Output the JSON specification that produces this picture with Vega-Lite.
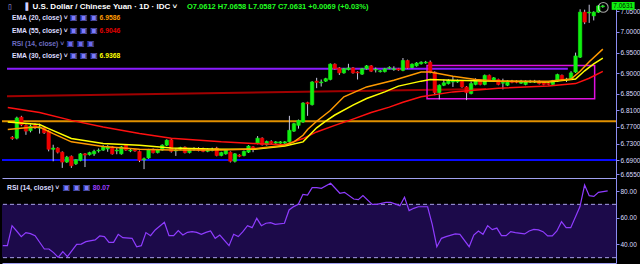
{
"$schema": "https://vega.github.io/schema/vega-lite/v6.json",
"background": "#000000",
"padding": 0,
"spacing": 0,
"config": {"font": "Liberation Sans", "view": {"stroke": null},
 "axis": {"grid": false, "title": null, "domainColor": "#8c8cf0", "tickColor": "#8c8cf0", "labelColor": "#dcdcff", "labelFontSize": 6.5, "labelPadding": 1, "tickSize": 3, "labelOverlap": false}},
"datasets": {
"candles": [
{"i":0,"o":6.745,"h":6.748,"l":6.739,"c":6.742},{"i":1,"o":6.743,"h":6.795,"l":6.740,"c":6.792},{"i":2,"o":6.794,"h":6.797,"l":6.772,"c":6.775},{"i":3,"o":6.774,"h":6.776,"l":6.751,"c":6.760},{"i":4,"o":6.761,"h":6.776,"l":6.757,"c":6.772},{"i":5,"o":6.775,"h":6.779,"l":6.765,"c":6.768},{"i":6,"o":6.767,"h":6.778,"l":6.754,"c":6.770},{"i":7,"o":6.768,"h":6.771,"l":6.753,"c":6.756},{"i":8,"o":6.760,"h":6.762,"l":6.711,"c":6.716},{"i":9,"o":6.716,"h":6.727,"l":6.687,"c":6.719},
{"i":10,"o":6.719,"h":6.721,"l":6.706,"c":6.709},{"i":11,"o":6.709,"h":6.711,"l":6.671,"c":6.685},{"i":12,"o":6.685,"h":6.700,"l":6.683,"c":6.697},{"i":13,"o":6.699,"h":6.701,"l":6.671,"c":6.676},{"i":14,"o":6.681,"h":6.692,"l":6.678,"c":6.691},{"i":15,"o":6.689,"h":6.707,"l":6.687,"c":6.705},{"i":16,"o":6.705,"h":6.707,"l":6.673,"c":6.702},{"i":17,"o":6.703,"h":6.710,"l":6.701,"c":6.708},{"i":18,"o":6.705,"h":6.715,"l":6.700,"c":6.711},{"i":19,"o":6.712,"h":6.718,"l":6.708,"c":6.714},
{"i":20,"o":6.714,"h":6.726,"l":6.712,"c":6.722},{"i":21,"o":6.717,"h":6.726,"l":6.710,"c":6.722},{"i":22,"o":6.722,"h":6.724,"l":6.703,"c":6.705},{"i":23,"o":6.712,"h":6.720,"l":6.704,"c":6.714},{"i":24,"o":6.705,"h":6.724,"l":6.703,"c":6.722},{"i":25,"o":6.726,"h":6.728,"l":6.712,"c":6.714},{"i":26,"o":6.712,"h":6.717,"l":6.709,"c":6.714},{"i":27,"o":6.715,"h":6.717,"l":6.710,"c":6.712},{"i":28,"o":6.711,"h":6.713,"l":6.685,"c":6.689},{"i":29,"o":6.690,"h":6.696,"l":6.668,"c":6.693},
{"i":30,"o":6.695,"h":6.717,"l":6.693,"c":6.715},{"i":31,"o":6.716,"h":6.718,"l":6.706,"c":6.708},{"i":32,"o":6.708,"h":6.717,"l":6.706,"c":6.715},{"i":33,"o":6.714,"h":6.728,"l":6.712,"c":6.726},{"i":34,"o":6.726,"h":6.740,"l":6.724,"c":6.738},{"i":35,"o":6.739,"h":6.741,"l":6.708,"c":6.711},{"i":36,"o":6.712,"h":6.718,"l":6.700,"c":6.714},{"i":37,"o":6.716,"h":6.722,"l":6.714,"c":6.720},{"i":38,"o":6.721,"h":6.723,"l":6.706,"c":6.708},{"i":39,"o":6.708,"h":6.718,"l":6.706,"c":6.716},
{"i":40,"o":6.716,"h":6.721,"l":6.713,"c":6.718},{"i":41,"o":6.716,"h":6.721,"l":6.711,"c":6.713},{"i":42,"o":6.718,"h":6.720,"l":6.709,"c":6.711},{"i":43,"o":6.711,"h":6.719,"l":6.709,"c":6.716},{"i":44,"o":6.713,"h":6.720,"l":6.711,"c":6.716},{"i":45,"o":6.719,"h":6.722,"l":6.699,"c":6.701},{"i":46,"o":6.701,"h":6.710,"l":6.699,"c":6.708},{"i":47,"o":6.705,"h":6.716,"l":6.703,"c":6.714},{"i":48,"o":6.709,"h":6.711,"l":6.684,"c":6.687},{"i":49,"o":6.687,"h":6.707,"l":6.684,"c":6.705},
{"i":50,"o":6.702,"h":6.704,"l":6.697,"c":6.699},{"i":51,"o":6.701,"h":6.713,"l":6.699,"c":6.711},{"i":52,"o":6.709,"h":6.726,"l":6.707,"c":6.724},{"i":53,"o":6.722,"h":6.724,"l":6.709,"c":6.716},{"i":54,"o":6.730,"h":6.748,"l":6.728,"c":6.743},{"i":55,"o":6.743,"h":6.745,"l":6.725,"c":6.727},{"i":56,"o":6.727,"h":6.737,"l":6.725,"c":6.735},{"i":57,"o":6.735,"h":6.738,"l":6.729,"c":6.731},{"i":58,"o":6.731,"h":6.736,"l":6.729,"c":6.734},{"i":59,"o":6.731,"h":6.736,"l":6.729,"c":6.734},
{"i":60,"o":6.731,"h":6.736,"l":6.729,"c":6.734},{"i":61,"o":6.734,"h":6.797,"l":6.732,"c":6.762},{"i":62,"o":6.760,"h":6.780,"l":6.758,"c":6.778},{"i":63,"o":6.774,"h":6.788,"l":6.766,"c":6.786},{"i":64,"o":6.782,"h":6.830,"l":6.780,"c":6.828},{"i":65,"o":6.829,"h":6.831,"l":6.797,"c":6.826},{"i":66,"o":6.824,"h":6.881,"l":6.822,"c":6.879},{"i":67,"o":6.881,"h":6.889,"l":6.864,"c":6.878},{"i":68,"o":6.877,"h":6.885,"l":6.868,"c":6.879},{"i":69,"o":6.881,"h":6.889,"l":6.879,"c":6.887},
{"i":70,"o":6.885,"h":6.924,"l":6.883,"c":6.922},{"i":71,"o":6.922,"h":6.924,"l":6.909,"c":6.911},{"i":72,"o":6.913,"h":6.915,"l":6.896,"c":6.901},{"i":73,"o":6.901,"h":6.913,"l":6.899,"c":6.911},{"i":74,"o":6.909,"h":6.923,"l":6.907,"c":6.913},{"i":75,"o":6.913,"h":6.915,"l":6.899,"c":6.901},{"i":76,"o":6.903,"h":6.905,"l":6.885,"c":6.901},{"i":77,"o":6.898,"h":6.913,"l":6.896,"c":6.911},{"i":78,"o":6.911,"h":6.920,"l":6.909,"c":6.918},{"i":79,"o":6.918,"h":6.920,"l":6.903,"c":6.905},
{"i":80,"o":6.908,"h":6.914,"l":6.902,"c":6.910},{"i":81,"o":6.904,"h":6.908,"l":6.902,"c":6.906},{"i":82,"o":6.904,"h":6.913,"l":6.902,"c":6.911},{"i":83,"o":6.912,"h":6.917,"l":6.910,"c":6.914},{"i":84,"o":6.909,"h":6.917,"l":6.906,"c":6.911},{"i":85,"o":6.911,"h":6.913,"l":6.906,"c":6.908},{"i":86,"o":6.907,"h":6.937,"l":6.905,"c":6.931},{"i":87,"o":6.931,"h":6.933,"l":6.911,"c":6.913},{"i":88,"o":6.914,"h":6.924,"l":6.912,"c":6.922},{"i":89,"o":6.918,"h":6.927,"l":6.916,"c":6.925},
{"i":90,"o":6.923,"h":6.929,"l":6.921,"c":6.927},{"i":91,"o":6.925,"h":6.930,"l":6.923,"c":6.927},{"i":92,"o":6.927,"h":6.931,"l":6.900,"c":6.903},{"i":93,"o":6.903,"h":6.905,"l":6.847,"c":6.853},{"i":94,"o":6.853,"h":6.873,"l":6.837,"c":6.871},{"i":95,"o":6.871,"h":6.885,"l":6.869,"c":6.877},{"i":96,"o":6.875,"h":6.886,"l":6.873,"c":6.883},{"i":97,"o":6.879,"h":6.893,"l":6.867,"c":6.881},{"i":98,"o":6.879,"h":6.885,"l":6.877,"c":6.881},{"i":99,"o":6.881,"h":6.883,"l":6.865,"c":6.867},
{"i":100,"o":6.867,"h":6.869,"l":6.835,"c":6.853},{"i":101,"o":6.851,"h":6.880,"l":6.849,"c":6.875},{"i":102,"o":6.873,"h":6.888,"l":6.871,"c":6.883},{"i":103,"o":6.882,"h":6.884,"l":6.871,"c":6.873},{"i":104,"o":6.873,"h":6.897,"l":6.871,"c":6.895},{"i":105,"o":6.895,"h":6.897,"l":6.881,"c":6.883},{"i":106,"o":6.882,"h":6.891,"l":6.880,"c":6.889},{"i":107,"o":6.885,"h":6.887,"l":6.871,"c":6.873},{"i":108,"o":6.876,"h":6.887,"l":6.861,"c":6.878},{"i":109,"o":6.871,"h":6.883,"l":6.869,"c":6.881},
{"i":110,"o":6.881,"h":6.884,"l":6.876,"c":6.878},{"i":111,"o":6.881,"h":6.883,"l":6.876,"c":6.878},{"i":112,"o":6.876,"h":6.884,"l":6.874,"c":6.881},{"i":113,"o":6.873,"h":6.883,"l":6.871,"c":6.881},{"i":114,"o":6.879,"h":6.884,"l":6.877,"c":6.881},{"i":115,"o":6.879,"h":6.884,"l":6.877,"c":6.881},{"i":116,"o":6.881,"h":6.883,"l":6.873,"c":6.875},{"i":117,"o":6.879,"h":6.881,"l":6.871,"c":6.873},{"i":118,"o":6.876,"h":6.878,"l":6.871,"c":6.873},{"i":119,"o":6.873,"h":6.884,"l":6.871,"c":6.882},
{"i":120,"o":6.881,"h":6.899,"l":6.879,"c":6.897},{"i":121,"o":6.895,"h":6.897,"l":6.883,"c":6.885},{"i":122,"o":6.884,"h":6.889,"l":6.879,"c":6.886},{"i":123,"o":6.887,"h":6.905,"l":6.885,"c":6.901},{"i":124,"o":6.903,"h":6.950,"l":6.901,"c":6.942},{"i":125,"o":6.939,"h":7.055,"l":6.937,"c":7.048},{"i":126,"o":7.048,"h":7.054,"l":7.019,"c":7.024},{"i":127,"o":7.046,"h":7.066,"l":7.022,"c":7.048},{"i":128,"o":7.039,"h":7.050,"l":7.028,"c":7.048},{"i":129,"o":7.048,"h":7.065,"l":7.046,"c":7.063},
{"i":130,"o":7.0612,"h":7.0658,"l":7.0587,"c":7.0631}
],
"ema": [
{"s":"EMA55","i":-1,"v":6.817},{"s":"EMA55","i":6,"v":6.805},{"s":"EMA55","i":13,"v":6.786},{"s":"EMA55","i":20,"v":6.770},{"s":"EMA55","i":28,"v":6.754},{"s":"EMA55","i":35,"v":6.743},{"s":"EMA55","i":46,"v":6.734},{"s":"EMA55","i":53,"v":6.730},{"s":"EMA55","i":60,"v":6.727},{"s":"EMA55","i":64,"v":6.742},{"s":"EMA55","i":67,"v":6.758},{"s":"EMA55","i":71,"v":6.774},{"s":"EMA55","i":75,"v":6.789},{"s":"EMA55","i":79,"v":6.805},{"s":"EMA55","i":83,"v":6.818},{"s":"EMA55","i":86,"v":6.830},{"s":"EMA55","i":90,"v":6.843},{"s":"EMA55","i":97,"v":6.855},{"s":"EMA55","i":107,"v":6.864},{"s":"EMA55","i":118,"v":6.869},{"s":"EMA55","i":124,"v":6.875},{"s":"EMA55","i":127,"v":6.888},{"s":"EMA55","i":130,"v":6.9046},
{"s":"EMA30","i":-1,"v":6.782},{"s":"EMA30","i":6,"v":6.776},{"s":"EMA30","i":8,"v":6.766},{"s":"EMA30","i":13,"v":6.742},{"s":"EMA30","i":20,"v":6.730},{"s":"EMA30","i":28,"v":6.726},{"s":"EMA30","i":35,"v":6.719},{"s":"EMA30","i":46,"v":6.716},{"s":"EMA30","i":53,"v":6.716},{"s":"EMA30","i":60,"v":6.724},{"s":"EMA30","i":64,"v":6.734},{"s":"EMA30","i":67,"v":6.768},{"s":"EMA30","i":69,"v":6.784},{"s":"EMA30","i":71,"v":6.799},{"s":"EMA30","i":75,"v":6.823},{"s":"EMA30","i":78,"v":6.839},{"s":"EMA30","i":82,"v":6.855},{"s":"EMA30","i":85,"v":6.869},{"s":"EMA30","i":90,"v":6.881},{"s":"EMA30","i":92,"v":6.885},{"s":"EMA30","i":97,"v":6.883},{"s":"EMA30","i":107,"v":6.881},{"s":"EMA30","i":118,"v":6.879},{"s":"EMA30","i":124,"v":6.886},{"s":"EMA30","i":126,"v":6.906},{"s":"EMA30","i":128,"v":6.923},{"s":"EMA30","i":130,"v":6.9368},
{"s":"EMA20","i":-1,"v":6.764},{"s":"EMA20","i":3,"v":6.768},{"s":"EMA20","i":6,"v":6.770},{"s":"EMA20","i":9,"v":6.754},{"s":"EMA20","i":13,"v":6.734},{"s":"EMA20","i":20,"v":6.723},{"s":"EMA20","i":28,"v":6.716},{"s":"EMA20","i":35,"v":6.714},{"s":"EMA20","i":46,"v":6.714},{"s":"EMA20","i":53,"v":6.717},{"s":"EMA20","i":60,"v":6.726},{"s":"EMA20","i":62,"v":6.734},{"s":"EMA20","i":64,"v":6.750},{"s":"EMA20","i":65,"v":6.764},{"s":"EMA20","i":67,"v":6.784},{"s":"EMA20","i":70,"v":6.810},{"s":"EMA20","i":73,"v":6.843},{"s":"EMA20","i":78,"v":6.867},{"s":"EMA20","i":84,"v":6.883},{"s":"EMA20","i":90,"v":6.903},{"s":"EMA20","i":92,"v":6.903},{"s":"EMA20","i":97,"v":6.893},{"s":"EMA20","i":102,"v":6.885},{"s":"EMA20","i":107,"v":6.881},{"s":"EMA20","i":118,"v":6.881},{"s":"EMA20","i":123,"v":6.886},{"s":"EMA20","i":125,"v":6.905},{"s":"EMA20","i":127,"v":6.928},{"s":"EMA20","i":130,"v":6.9586}
],
"trend": [{"i":-1.17,"v":6.8443},{"i":104.3,"v":6.862}],
"rsi": [
{"i":-1,"r":39.0},{"i":0,"r":39.0},{"i":1,"r":54.0},{"i":2,"r":50.0},{"i":3,"r":45.7},{"i":4,"r":48.8},{"i":5,"r":48.0},{"i":6,"r":46.5},{"i":8,"r":36.5},{"i":9,"r":36.5},{"i":10,"r":33.8},{"i":11,"r":30.2},{"i":12,"r":34.5},{"i":13,"r":30.8},{"i":15,"r":40.0},{"i":16,"r":40.2},{"i":17,"r":42.0},{"i":19,"r":43.3},{"i":20,"r":46.3},{"i":21,"r":45.8},{"i":22,"r":41.5},{"i":23,"r":41.5},{"i":24,"r":47.5},{"i":25,"r":45.0},{"i":27,"r":44.5},{"i":28,"r":38.2},{"i":29,"r":39.0},{"i":30,"r":48.8},{"i":31,"r":46.5},{"i":32,"r":50.8},{"i":34,"r":56.5},{"i":35,"r":46.5},{"i":36,"r":46.5},{"i":37,"r":50.3},{"i":38,"r":47.0},{"i":39,"r":49.0},{"i":40,"r":49.5},{"i":41,"r":49.0},{"i":42,"r":47.5},{"i":43,"r":49.0},{"i":44,"r":50.0},{"i":45,"r":44.5},{"i":46,"r":47.0},{"i":48,"r":39.0},{"i":49,"r":47.5},{"i":50,"r":45.8},{"i":51,"r":49.5},{"i":52,"r":54.0},{"i":53,"r":52.5},{"i":54,"r":59.5},{"i":55,"r":54.0},{"i":56,"r":55.8},{"i":57,"r":56.3},{"i":58,"r":55.0},{"i":60,"r":55.8},{"i":61,"r":65.8},{"i":62,"r":68.3},{"i":63,"r":70.0},{"i":64,"r":77.5},{"i":65,"r":77.0},{"i":66,"r":82.5},{"i":67,"r":82.5},{"i":68,"r":82.0},{"i":70,"r":85.8},{"i":72,"r":78.3},{"i":73,"r":79.0},{"i":75,"r":74.0},{"i":76,"r":73.5},{"i":77,"r":76.5},{"i":79,"r":70.0},{"i":80,"r":70.0},{"i":82,"r":71.5},{"i":83,"r":71.5},{"i":85,"r":69.0},{"i":86,"r":75.3},{"i":87,"r":65.3},{"i":88,"r":67.0},{"i":89,"r":68.2},{"i":91,"r":68.2},{"i":92,"r":55.0},{"i":93,"r":38.2},{"i":94,"r":44.5},{"i":95,"r":45.8},{"i":97,"r":47.8},{"i":98,"r":47.5},{"i":100,"r":38.2},{"i":101,"r":47.0},{"i":102,"r":50.0},{"i":103,"r":47.5},{"i":104,"r":54.0},{"i":105,"r":51.0},{"i":106,"r":52.2},{"i":107,"r":46.5},{"i":108,"r":46.5},{"i":109,"r":49.5},{"i":110,"r":48.8},{"i":112,"r":47.8},{"i":113,"r":50.0},{"i":114,"r":51.2},{"i":115,"r":50.8},{"i":116,"r":49.5},{"i":117,"r":46.3},{"i":118,"r":46.3},{"i":119,"r":50.0},{"i":120,"r":57.0},{"i":121,"r":52.5},{"i":122,"r":52.5},{"i":124,"r":68.3},{"i":125,"r":84.5},{"i":126,"r":76.5},{"i":127,"r":76.0},{"i":128,"r":79.0},{"i":130,"r":80.07}
]
},
"vconcat": [
{
"width": 614, "height": 176,
"layer": [
{"data": {"name": "candles"}, "mark": {"type": "rule", "color": "#c4c4dc", "strokeWidth": 1, "opacity": 0},
 "encoding": {"x": {"field": "i", "type": "quantitative", "scale": {"domain": [-1.17, 131.8], "nice": false, "zero": false},
   "axis": {"orient": "bottom", "labels": false, "ticks": false, "domainColor": "#a0a0f0"}},
  "y": {"field": "l", "type": "quantitative", "scale": {"domain": [6.6465, 7.0726], "nice": false, "zero": false},
   "axis": {"orient": "right", "values": [7.05, 7.0, 6.95, 6.9, 6.85, 6.81, 6.77, 6.73, 6.69, 6.655], "tickCount": 20, "format": ".4f", "labelOverlap": false, "labelBound": false, "labelFlush": false}}, "y2": {"field": "h"}}},
{"data": {"values": [{}]}, "mark": {"type": "rule", "color": "#e09000", "strokeWidth": 2},
 "encoding": {"y": {"datum": 6.784, "type": "quantitative", "scale": {"domain": [6.6465, 7.0726], "nice": false, "zero": false}}}},
{"data": {"values": [{}]}, "mark": {"type": "rule", "color": "#0a0aff", "strokeWidth": 2},
 "encoding": {"y": {"datum": 6.690, "type": "quantitative", "scale": {"domain": [6.6465, 7.0726], "nice": false, "zero": false}}}},
{"data": {"name": "trend"}, "mark": {"type": "line", "color": "#a00000", "strokeWidth": 2},
 "encoding": {"x": {"field": "i", "type": "quantitative", "scale": {"domain": [-1.17, 131.8], "nice": false, "zero": false}},
  "y": {"field": "v", "type": "quantitative", "scale": {"domain": [6.6465, 7.0726], "nice": false, "zero": false}}}},
{"data": {"values": [{}]}, "mark": {"type": "rule", "color": "#8a1cff", "strokeWidth": 2},
 "encoding": {"x": {"datum": -1.17, "type": "quantitative", "scale": {"domain": [-1.17, 131.8], "nice": false, "zero": false}},
  "x2": {"datum": 122.3}, "y": {"datum": 6.911, "type": "quantitative", "scale": {"domain": [6.6465, 7.0726], "nice": false, "zero": false}}}},
{"data": {"values": [{}]}, "mark": {"type": "rect", "fillOpacity": 0, "stroke": "#e010e0", "strokeWidth": 1.5},
 "encoding": {"x": {"datum": 91.3, "type": "quantitative", "scale": {"domain": [-1.17, 131.8], "nice": false, "zero": false}},
  "x2": {"datum": 128.2}, "y": {"datum": 6.919, "type": "quantitative", "scale": {"domain": [6.6465, 7.0726], "nice": false, "zero": false}}, "y2": {"datum": 6.8385}}},
{"data": {"name": "candles"}, "mark": {"type": "rule", "color": "#c4c4dc", "strokeWidth": 1},
 "encoding": {"x": {"field": "i", "type": "quantitative", "scale": {"domain": [-1.17, 131.8], "nice": false, "zero": false}},
  "y": {"field": "l", "type": "quantitative", "scale": {"domain": [6.6465, 7.0726], "nice": false, "zero": false}}, "y2": {"field": "h"}}},
{"data": {"name": "candles"}, "mark": {"type": "bar", "width": 3.4, "strokeWidth": 0.6},
 "encoding": {"x": {"field": "i", "type": "quantitative", "scale": {"domain": [-1.17, 131.8], "nice": false, "zero": false}},
  "y": {"field": "o", "type": "quantitative", "scale": {"domain": [6.6465, 7.0726], "nice": false, "zero": false}}, "y2": {"field": "c"},
  "color": {"condition": {"test": "datum.c >= datum.o", "value": "#10f010"}, "value": "#ee0000"},
  "stroke": {"condition": {"test": "datum.c >= datum.o", "value": "#10f010"}, "value": "#ee0000"}}},
{"data": {"name": "ema"}, "mark": {"type": "line", "strokeWidth": 1.5},
 "encoding": {"x": {"field": "i", "type": "quantitative", "scale": {"domain": [-1.17, 131.8], "nice": false, "zero": false}},
  "y": {"field": "v", "type": "quantitative", "scale": {"domain": [6.6465, 7.0726], "nice": false, "zero": false}},
  "color": {"field": "s", "type": "nominal", "scale": {"domain": ["EMA20", "EMA30", "EMA55"], "range": ["#ff9a00", "#ffff00", "#ff1010"]}, "legend": null},
  "order": {"field": "i", "type": "quantitative"}}},
{"data": {"values": [{}]}, "mark": {"type": "point", "filled": false, "stroke": "#e8e8e8", "strokeWidth": 1.1, "size": 95},
 "encoding": {"x": {"datum": 130.1, "type": "quantitative", "scale": {"domain": [-1.17, 131.8], "nice": false, "zero": false}},
  "y": {"datum": 7.0595, "type": "quantitative", "scale": {"domain": [6.6465, 7.0726], "nice": false, "zero": false}}}},
{"data": {"values": [{}]}, "mark": {"type": "rect", "color": "#10f010"},
 "encoding": {"x": {"datum": 131.95, "type": "quantitative", "scale": {"domain": [-1.17, 131.8], "nice": false, "zero": false}},
  "x2": {"datum": 137.0}, "y": {"datum": 7.0726, "type": "quantitative", "scale": {"domain": [6.6465, 7.0726], "nice": false, "zero": false}}, "y2": {"datum": 7.0536}}},
{"data": {"values": [{}]}, "mark": {"type": "text", "text": "7.0631", "align": "center", "baseline": "middle", "fontSize": 6.5, "color": "#002000"},
 "encoding": {"x": {"datum": 134.5, "type": "quantitative", "scale": {"domain": [-1.17, 131.8], "nice": false, "zero": false}},
  "y": {"datum": 7.0631, "type": "quantitative", "scale": {"domain": [6.6465, 7.0726], "nice": false, "zero": false}}}},
{"data": {"values": [{}]}, "mark": {"type": "text", "text": "▯", "font": "DejaVu Sans", "align": "left", "baseline": "middle", "fontSize": 7, "color": "#b0b0ff"},
 "encoding": {"x": {"datum": -0.95, "type": "quantitative", "scale": {"domain": [-1.17, 131.8], "nice": false, "zero": false}},
  "y": {"datum": 7.0607, "type": "quantitative", "scale": {"domain": [6.6465, 7.0726], "nice": false, "zero": false}}}},
{"data": {"values": [{}]}, "mark": {"type": "text", "text": "▐", "font": "DejaVu Sans", "align": "left", "baseline": "middle", "fontSize": 7, "color": "#d0d0ff"},
 "encoding": {"x": {"datum": 2.3, "type": "quantitative", "scale": {"domain": [-1.17, 131.8], "nice": false, "zero": false}},
  "y": {"datum": 7.0607, "type": "quantitative", "scale": {"domain": [6.6465, 7.0726], "nice": false, "zero": false}}}},
{"data": {"values": [{}]}, "mark": {"type": "text", "text": "U.S. Dollar / Chinese Yuan · 1D · IDC ˅", "align": "left", "baseline": "middle", "fontSize": 8, "fontWeight": "bold", "color": "#ffffff"},
 "encoding": {"x": {"datum": 4.46, "type": "quantitative", "scale": {"domain": [-1.17, 131.8], "nice": false, "zero": false}},
  "y": {"datum": 7.0607, "type": "quantitative", "scale": {"domain": [6.6465, 7.0726], "nice": false, "zero": false}}}},
{"data": {"values": [{}]}, "mark": {"type": "text", "text": "O7.0612 H7.0658 L7.0587 C7.0631 +0.0069 (+0.03%)", "align": "left", "baseline": "middle", "fontSize": 7.5, "fontWeight": "bold", "color": "#22ff22"},
 "encoding": {"x": {"datum": 38.46, "type": "quantitative", "scale": {"domain": [-1.17, 131.8], "nice": false, "zero": false}},
  "y": {"datum": 7.0607, "type": "quantitative", "scale": {"domain": [6.6465, 7.0726], "nice": false, "zero": false}}}},
{"data": {"values": [{}]}, "mark": {"type": "text", "text": "EMA (20, close) ˅", "align": "left", "baseline": "middle", "fontSize": 6.8, "fontWeight": "bold", "color": "#dcdcff"},
 "encoding": {"x": {"datum": -0.09, "type": "quantitative", "scale": {"domain": [-1.17, 131.8], "nice": false, "zero": false}},
  "y": {"datum": 7.0339, "type": "quantitative", "scale": {"domain": [6.6465, 7.0726], "nice": false, "zero": false}}}},
{"data": {"values": [{}]}, "mark": {"type": "text", "text": "EMA (55, close) ˅", "align": "left", "baseline": "middle", "fontSize": 6.8, "fontWeight": "bold", "color": "#dcdcff"},
 "encoding": {"x": {"datum": -0.09, "type": "quantitative", "scale": {"domain": [-1.17, 131.8], "nice": false, "zero": false}},
  "y": {"datum": 7.0024, "type": "quantitative", "scale": {"domain": [6.6465, 7.0726], "nice": false, "zero": false}}}},
{"data": {"values": [{}]}, "mark": {"type": "text", "text": "RSI (14, close) ˅", "align": "left", "baseline": "middle", "fontSize": 6.8, "fontWeight": "bold", "color": "#6c6cc0"},
 "encoding": {"x": {"datum": -0.09, "type": "quantitative", "scale": {"domain": [-1.17, 131.8], "nice": false, "zero": false}},
  "y": {"datum": 6.9717, "type": "quantitative", "scale": {"domain": [6.6465, 7.0726], "nice": false, "zero": false}}}},
{"data": {"values": [{}]}, "mark": {"type": "text", "text": "EMA (30, close) ˅", "align": "left", "baseline": "middle", "fontSize": 6.8, "fontWeight": "bold", "color": "#dcdcff"},
 "encoding": {"x": {"datum": -0.09, "type": "quantitative", "scale": {"domain": [-1.17, 131.8], "nice": false, "zero": false}},
  "y": {"datum": 6.9419, "type": "quantitative", "scale": {"domain": [6.6465, 7.0726], "nice": false, "zero": false}}}},
{"data": {"values": [{}]}, "mark": {"type": "text", "text": "▣ ▣ ▣", "font": "DejaVu Sans", "align": "left", "baseline": "middle", "fontSize": 8, "color": "#7b7bff"},
 "encoding": {"x": {"datum": 12.7, "type": "quantitative", "scale": {"domain": [-1.17, 131.8], "nice": false, "zero": false}},
  "y": {"datum": 7.0339, "type": "quantitative", "scale": {"domain": [6.6465, 7.0726], "nice": false, "zero": false}}}},
{"data": {"values": [{}]}, "mark": {"type": "text", "text": "▣ ▣ ▣", "font": "DejaVu Sans", "align": "left", "baseline": "middle", "fontSize": 8, "color": "#7b7bff"},
 "encoding": {"x": {"datum": 12.7, "type": "quantitative", "scale": {"domain": [-1.17, 131.8], "nice": false, "zero": false}},
  "y": {"datum": 7.0024, "type": "quantitative", "scale": {"domain": [6.6465, 7.0726], "nice": false, "zero": false}}}},
{"data": {"values": [{}]}, "mark": {"type": "text", "text": "▣ ▣ ▣", "font": "DejaVu Sans", "align": "left", "baseline": "middle", "fontSize": 8, "color": "#6a6af0"},
 "encoding": {"x": {"datum": 12.0, "type": "quantitative", "scale": {"domain": [-1.17, 131.8], "nice": false, "zero": false}},
  "y": {"datum": 6.9717, "type": "quantitative", "scale": {"domain": [6.6465, 7.0726], "nice": false, "zero": false}}}},
{"data": {"values": [{}]}, "mark": {"type": "text", "text": "▣ ▣ ▣", "font": "DejaVu Sans", "align": "left", "baseline": "middle", "fontSize": 8, "color": "#7b7bff"},
 "encoding": {"x": {"datum": 12.7, "type": "quantitative", "scale": {"domain": [-1.17, 131.8], "nice": false, "zero": false}},
  "y": {"datum": 6.9419, "type": "quantitative", "scale": {"domain": [6.6465, 7.0726], "nice": false, "zero": false}}}},
{"data": {"values": [{}]}, "mark": {"type": "text", "text": "6.9586", "align": "left", "baseline": "middle", "fontSize": 6.8, "fontWeight": "bold", "color": "#ff9a00"},
 "encoding": {"x": {"datum": 19.2, "type": "quantitative", "scale": {"domain": [-1.17, 131.8], "nice": false, "zero": false}},
  "y": {"datum": 7.0339, "type": "quantitative", "scale": {"domain": [6.6465, 7.0726], "nice": false, "zero": false}}}},
{"data": {"values": [{}]}, "mark": {"type": "text", "text": "6.9046", "align": "left", "baseline": "middle", "fontSize": 6.8, "fontWeight": "bold", "color": "#e00000"},
 "encoding": {"x": {"datum": 19.2, "type": "quantitative", "scale": {"domain": [-1.17, 131.8], "nice": false, "zero": false}},
  "y": {"datum": 7.0024, "type": "quantitative", "scale": {"domain": [6.6465, 7.0726], "nice": false, "zero": false}}}},
{"data": {"values": [{}]}, "mark": {"type": "text", "text": "6.9368", "align": "left", "baseline": "middle", "fontSize": 6.8, "fontWeight": "bold", "color": "#ffff00"},
 "encoding": {"x": {"datum": 19.2, "type": "quantitative", "scale": {"domain": [-1.17, 131.8], "nice": false, "zero": false}},
  "y": {"datum": 6.9419, "type": "quantitative", "scale": {"domain": [6.6465, 7.0726], "nice": false, "zero": false}}}}
]
},
{
"width": 614, "height": 85,
"layer": [
{"data": {"name": "rsi"}, "mark": {"type": "line", "opacity": 0},
 "encoding": {"x": {"field": "i", "type": "quantitative", "scale": {"domain": [-1.17, 131.8], "nice": false, "zero": false},
   "axis": {"orient": "bottom", "labels": false, "tickSize": 2, "tickCount": 30, "values": [6.7, 16, 26.5, 36.6, 46.3, 58.4, 71.1, 80.8, 90.7, 100.6, 110.8, 123.3], "domainColor": "#a0a0f0"}},
  "y": {"field": "r", "type": "quantitative", "scale": {"domain": [26, 89.75], "nice": false, "zero": false},
   "axis": {"orient": "right", "values": [80, 60, 40], "tickCount": 10, "format": ".2f", "labelOverlap": false, "labelBound": false, "labelFlush": false}}}},
{"data": {"values": [{}]}, "mark": {"type": "rect", "color": "#1c0a4a"},
 "encoding": {"x": {"datum": -1.17, "type": "quantitative", "scale": {"domain": [-1.17, 131.8], "nice": false, "zero": false}},
  "x2": {"datum": 131.8},
  "y": {"datum": 70, "type": "quantitative", "scale": {"domain": [26, 89.75], "nice": false, "zero": false}}, "y2": {"datum": 30}}},
{"data": {"values": [{}]}, "mark": {"type": "rule", "color": "#a89fe8", "strokeWidth": 1, "strokeDash": [4, 3]},
 "encoding": {"y": {"datum": 70, "type": "quantitative", "scale": {"domain": [26, 89.75], "nice": false, "zero": false}}}},
{"data": {"values": [{}]}, "mark": {"type": "rule", "color": "#a89fe8", "strokeWidth": 1, "strokeDash": [4, 3]},
 "encoding": {"y": {"datum": 30, "type": "quantitative", "scale": {"domain": [26, 89.75], "nice": false, "zero": false}}}},
{"data": {"name": "rsi"}, "mark": {"type": "line", "color": "#8f3cff", "strokeWidth": 1.2},
 "encoding": {"x": {"field": "i", "type": "quantitative", "scale": {"domain": [-1.17, 131.8], "nice": false, "zero": false}},
  "y": {"field": "r", "type": "quantitative", "scale": {"domain": [26, 89.75], "nice": false, "zero": false}}}},
{"data": {"values": [{}]}, "mark": {"type": "text", "text": "RSI (14, close) ˅", "align": "left", "baseline": "middle", "fontSize": 6.8, "fontWeight": "bold", "color": "#dcdcff"},
 "encoding": {"x": {"datum": -0.09, "type": "quantitative", "scale": {"domain": [-1.17, 131.8], "nice": false, "zero": false}},
  "y": {"datum": 82.5, "type": "quantitative", "scale": {"domain": [26, 89.75], "nice": false, "zero": false}}}},
{"data": {"values": [{}]}, "mark": {"type": "text", "text": "▣ ▣ ▣", "font": "DejaVu Sans", "align": "left", "baseline": "middle", "fontSize": 8, "color": "#7b7bff"},
 "encoding": {"x": {"datum": 12.0, "type": "quantitative", "scale": {"domain": [-1.17, 131.8], "nice": false, "zero": false}},
  "y": {"datum": 82.5, "type": "quantitative", "scale": {"domain": [26, 89.75], "nice": false, "zero": false}}}},
{"data": {"values": [{}]}, "mark": {"type": "text", "text": "80.07", "align": "left", "baseline": "middle", "fontSize": 6.8, "fontWeight": "bold", "color": "#9a3cff"},
 "encoding": {"x": {"datum": 18.5, "type": "quantitative", "scale": {"domain": [-1.17, 131.8], "nice": false, "zero": false}},
  "y": {"datum": 82.5, "type": "quantitative", "scale": {"domain": [26, 89.75], "nice": false, "zero": false}}}}
]
}
]
}
